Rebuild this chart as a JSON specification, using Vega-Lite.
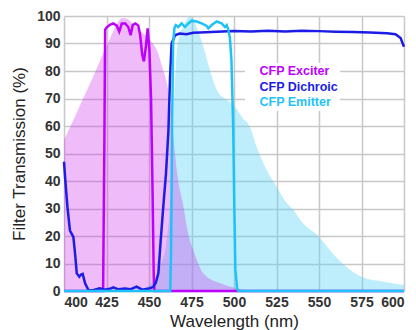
{
  "$schema": "https://vega.github.io/schema/vega-lite/v6.json",
  "width": 340,
  "height": 275,
  "autosize": {"type": "none"},
  "padding": {"left": 64, "top": 16, "right": 12, "bottom": 39},
  "background": "white",
  "config": {
    "view": {"stroke": null},
    "font": "Liberation Sans",
    "axis": {
      "grid": true,
      "gridColor": "#c8c8c8",
      "gridWidth": 1.5,
      "domain": false,
      "ticks": false,
      "labelFont": "Liberation Sans",
      "labelFontSize": 14,
      "labelFontWeight": "bold",
      "labelColor": "#333333",
      "titleFont": "Liberation Sans",
      "titleFontSize": 17,
      "titleFontWeight": "normal",
      "titleColor": "#222222"
    }
  },
  "datasets": {
    "emission": [
      {"wl": 400, "t": 0}, {"wl": 446.5, "t": 0}, {"wl": 449, "t": 1.5}, {"wl": 452, "t": 3.5},
      {"wl": 456.5, "t": 8.8}, {"wl": 460.4, "t": 18.5}, {"wl": 462.3, "t": 30}, {"wl": 463.3, "t": 40},
      {"wl": 464, "t": 55}, {"wl": 464.6, "t": 66}, {"wl": 465.4, "t": 78}, {"wl": 466.5, "t": 88},
      {"wl": 468, "t": 93}, {"wl": 470, "t": 96}, {"wl": 472, "t": 98.5}, {"wl": 474, "t": 99.8},
      {"wl": 476, "t": 99}, {"wl": 478, "t": 96}, {"wl": 482, "t": 88.8}, {"wl": 486, "t": 80},
      {"wl": 490, "t": 73}, {"wl": 495.7, "t": 69.5}, {"wl": 500, "t": 67.5}, {"wl": 505, "t": 63},
      {"wl": 509.5, "t": 59.5}, {"wl": 513.3, "t": 52.5}, {"wl": 519.2, "t": 44}, {"wl": 525, "t": 38},
      {"wl": 531, "t": 32}, {"wl": 535, "t": 29.5}, {"wl": 539, "t": 25.8}, {"wl": 550, "t": 19.7},
      {"wl": 558, "t": 13.7}, {"wl": 566, "t": 8.8}, {"wl": 575, "t": 5.2}, {"wl": 588, "t": 3.4},
      {"wl": 600, "t": 2.2}
    ],
    "absorption": [
      {"wl": 400, "t": 55}, {"wl": 405, "t": 61.5}, {"wl": 410, "t": 68.3}, {"wl": 415, "t": 75},
      {"wl": 420, "t": 82}, {"wl": 425, "t": 89}, {"wl": 429, "t": 94.5}, {"wl": 432, "t": 98},
      {"wl": 434.5, "t": 99.3}, {"wl": 437, "t": 99}, {"wl": 440, "t": 97.5}, {"wl": 444, "t": 95},
      {"wl": 448, "t": 93}, {"wl": 451, "t": 91}, {"wl": 455, "t": 87}, {"wl": 458, "t": 81},
      {"wl": 461, "t": 74}, {"wl": 463, "t": 65}, {"wl": 464.5, "t": 55}, {"wl": 466.5, "t": 43},
      {"wl": 470.2, "t": 30.7}, {"wl": 473, "t": 21}, {"wl": 476, "t": 15}, {"wl": 482, "t": 6.4},
      {"wl": 492, "t": 2.8}, {"wl": 501.6, "t": 1}, {"wl": 510, "t": 0}, {"wl": 600, "t": 0}
    ],
    "filters": [
      {"series": "CFP Exciter", "wl": 400, "t": 0}, {"series": "CFP Exciter", "wl": 423, "t": 0},
      {"series": "CFP Exciter", "wl": 423.7, "t": 50}, {"series": "CFP Exciter", "wl": 424.2, "t": 95},
      {"series": "CFP Exciter", "wl": 425, "t": 95.8}, {"series": "CFP Exciter", "wl": 427, "t": 96.8},
      {"series": "CFP Exciter", "wl": 429, "t": 97.3}, {"series": "CFP Exciter", "wl": 431, "t": 96.5},
      {"series": "CFP Exciter", "wl": 432.5, "t": 94.3}, {"series": "CFP Exciter", "wl": 434, "t": 97.3},
      {"series": "CFP Exciter", "wl": 436, "t": 97.3}, {"series": "CFP Exciter", "wl": 437.8, "t": 96},
      {"series": "CFP Exciter", "wl": 439.2, "t": 93}, {"series": "CFP Exciter", "wl": 440.4, "t": 96.7},
      {"series": "CFP Exciter", "wl": 442, "t": 97.3}, {"series": "CFP Exciter", "wl": 443.7, "t": 96.5},
      {"series": "CFP Exciter", "wl": 444.7, "t": 93.5}, {"series": "CFP Exciter", "wl": 446, "t": 86},
      {"series": "CFP Exciter", "wl": 447, "t": 83.5}, {"series": "CFP Exciter", "wl": 448.2, "t": 89},
      {"series": "CFP Exciter", "wl": 449.2, "t": 95.5}, {"series": "CFP Exciter", "wl": 450.2, "t": 88},
      {"series": "CFP Exciter", "wl": 451.2, "t": 70}, {"series": "CFP Exciter", "wl": 452, "t": 40},
      {"series": "CFP Exciter", "wl": 452.8, "t": 5}, {"series": "CFP Exciter", "wl": 453.2, "t": 0},
      {"series": "CFP Exciter", "wl": 600, "t": 0},
      {"series": "CFP Dichroic", "wl": 400, "t": 47}, {"series": "CFP Dichroic", "wl": 400.6, "t": 41.6},
      {"series": "CFP Dichroic", "wl": 402, "t": 30.7}, {"series": "CFP Dichroic", "wl": 403.5, "t": 22},
      {"series": "CFP Dichroic", "wl": 405.5, "t": 19.7}, {"series": "CFP Dichroic", "wl": 406.5, "t": 13.7},
      {"series": "CFP Dichroic", "wl": 407.5, "t": 6.4}, {"series": "CFP Dichroic", "wl": 409, "t": 5.2},
      {"series": "CFP Dichroic", "wl": 410, "t": 6}, {"series": "CFP Dichroic", "wl": 411, "t": 6.2},
      {"series": "CFP Dichroic", "wl": 412.4, "t": 2.8}, {"series": "CFP Dichroic", "wl": 414.3, "t": 0.4},
      {"series": "CFP Dichroic", "wl": 417, "t": 0.3}, {"series": "CFP Dichroic", "wl": 421, "t": 1},
      {"series": "CFP Dichroic", "wl": 424, "t": 0.5}, {"series": "CFP Dichroic", "wl": 427, "t": 0.8},
      {"series": "CFP Dichroic", "wl": 429, "t": 1.3}, {"series": "CFP Dichroic", "wl": 432, "t": 0.6},
      {"series": "CFP Dichroic", "wl": 436, "t": 0.9}, {"series": "CFP Dichroic", "wl": 439, "t": 0.6},
      {"series": "CFP Dichroic", "wl": 442.7, "t": 1.6}, {"series": "CFP Dichroic", "wl": 446, "t": 0.5},
      {"series": "CFP Dichroic", "wl": 450.6, "t": 1}, {"series": "CFP Dichroic", "wl": 452.5, "t": 1.5},
      {"series": "CFP Dichroic", "wl": 454, "t": 3}, {"series": "CFP Dichroic", "wl": 455.5, "t": 6.4},
      {"series": "CFP Dichroic", "wl": 456.9, "t": 18.5}, {"series": "CFP Dichroic", "wl": 458.4, "t": 30.7},
      {"series": "CFP Dichroic", "wl": 460, "t": 42.8}, {"series": "CFP Dichroic", "wl": 461.4, "t": 58},
      {"series": "CFP Dichroic", "wl": 462.4, "t": 78}, {"series": "CFP Dichroic", "wl": 463.3, "t": 90},
      {"series": "CFP Dichroic", "wl": 465.3, "t": 93}, {"series": "CFP Dichroic", "wl": 468, "t": 93.6},
      {"series": "CFP Dichroic", "wl": 472, "t": 93.4}, {"series": "CFP Dichroic", "wl": 476, "t": 93.9},
      {"series": "CFP Dichroic", "wl": 480, "t": 94}, {"series": "CFP Dichroic", "wl": 490, "t": 94.3},
      {"series": "CFP Dichroic", "wl": 500, "t": 94.5}, {"series": "CFP Dichroic", "wl": 510, "t": 94.4},
      {"series": "CFP Dichroic", "wl": 520, "t": 94.6}, {"series": "CFP Dichroic", "wl": 530, "t": 94.4},
      {"series": "CFP Dichroic", "wl": 540, "t": 94.6}, {"series": "CFP Dichroic", "wl": 550, "t": 94.5},
      {"series": "CFP Dichroic", "wl": 560, "t": 94.3}, {"series": "CFP Dichroic", "wl": 570, "t": 94.2},
      {"series": "CFP Dichroic", "wl": 580, "t": 94}, {"series": "CFP Dichroic", "wl": 590, "t": 93.7},
      {"series": "CFP Dichroic", "wl": 595, "t": 93.4}, {"series": "CFP Dichroic", "wl": 598, "t": 92},
      {"series": "CFP Dichroic", "wl": 600, "t": 88.8},
      {"series": "CFP Emitter", "wl": 400, "t": 0}, {"series": "CFP Emitter", "wl": 462.5, "t": 0},
      {"series": "CFP Emitter", "wl": 463, "t": 15}, {"series": "CFP Emitter", "wl": 463.6, "t": 60},
      {"series": "CFP Emitter", "wl": 464.2, "t": 90}, {"series": "CFP Emitter", "wl": 465, "t": 95.8},
      {"series": "CFP Emitter", "wl": 465.8, "t": 96.7}, {"series": "CFP Emitter", "wl": 467.2, "t": 96},
      {"series": "CFP Emitter", "wl": 469.2, "t": 97.3}, {"series": "CFP Emitter", "wl": 471.2, "t": 96},
      {"series": "CFP Emitter", "wl": 473.1, "t": 97.3}, {"series": "CFP Emitter", "wl": 475.1, "t": 98.3},
      {"series": "CFP Emitter", "wl": 478, "t": 98}, {"series": "CFP Emitter", "wl": 481, "t": 97.3},
      {"series": "CFP Emitter", "wl": 483.9, "t": 96.4}, {"series": "CFP Emitter", "wl": 484.9, "t": 95.5},
      {"series": "CFP Emitter", "wl": 486.9, "t": 96.7}, {"series": "CFP Emitter", "wl": 489.8, "t": 98},
      {"series": "CFP Emitter", "wl": 492.7, "t": 97.3}, {"series": "CFP Emitter", "wl": 494.7, "t": 96},
      {"series": "CFP Emitter", "wl": 495.7, "t": 96.7}, {"series": "CFP Emitter", "wl": 496.7, "t": 95},
      {"series": "CFP Emitter", "wl": 497.6, "t": 92}, {"series": "CFP Emitter", "wl": 498.5, "t": 84},
      {"series": "CFP Emitter", "wl": 499.5, "t": 60}, {"series": "CFP Emitter", "wl": 500.2, "t": 30},
      {"series": "CFP Emitter", "wl": 500.8, "t": 8}, {"series": "CFP Emitter", "wl": 501.8, "t": 1},
      {"series": "CFP Emitter", "wl": 502.5, "t": 0}, {"series": "CFP Emitter", "wl": 600, "t": 0}
    ]
  },
  "encoding": {
    "x": {
      "field": "wl",
      "type": "quantitative",
      "scale": {"domain": [400, 600], "nice": false, "zero": false},
      "axis": {
        "title": "Wavelength (nm)",
        "values": [400, 425, 450, 475, 500, 525, 550, 575, 600],
        "labelPadding": 4,
        "titleY": 35,
        "titleBaseline": "alphabetic"
      }
    },
    "y": {
      "field": "t",
      "type": "quantitative",
      "scale": {"domain": [0, 100], "nice": false},
      "axis": {
        "title": "Filter Transmission (%)",
        "values": [0, 10, 20, 30, 40, 50, 60, 70, 80, 90, 100],
        "labelPadding": 4,
        "titleX": -40,
        "titleBaseline": "alphabetic"
      }
    }
  },
  "layer": [
    {
      "data": {"name": "emission"},
      "mark": {"type": "area", "color": "#5cd4f5", "opacity": 0.4, "interpolate": "monotone"}
    },
    {
      "data": {"name": "absorption"},
      "mark": {"type": "area", "color": "#cd2de8", "opacity": 0.32, "interpolate": "monotone"}
    },
    {
      "data": {"name": "filters"},
      "transform": [{"filter": "datum.series === 'CFP Exciter'"}],
      "mark": {"type": "line", "strokeWidth": 2.5},
      "encoding": {
        "color": {
          "field": "series",
          "type": "nominal",
          "scale": {"domain": ["CFP Exciter", "CFP Dichroic", "CFP Emitter"], "range": ["#bf00ff", "#1c1ce6", "#1fc2f8"]},
          "legend": {
            "title": null,
            "orient": "none",
            "legendX": 181,
            "legendY": 47,
            "symbolType": "circle",
            "symbolSize": 0,
            "symbolStrokeWidth": 0,
            "symbolOpacity": 0,
            "labelOffset": 0,
            "labelFont": "Liberation Sans",
            "labelFontSize": 12.5,
            "labelFontWeight": "bold",
            "fillColor": "white",
            "padding": 2,
            "rowPadding": 2.25,
            "encode": {"labels": {"update": {"fill": {"scale": "color", "field": "value"}}}}
          }
        }
      }
    },
    {
      "data": {"name": "filters"},
      "transform": [{"filter": "datum.series === 'CFP Dichroic'"}],
      "mark": {"type": "line", "strokeWidth": 2.5},
      "encoding": {"color": {"field": "series", "type": "nominal"}}
    },
    {
      "data": {"name": "filters"},
      "transform": [{"filter": "datum.series === 'CFP Emitter'"}],
      "mark": {"type": "line", "strokeWidth": 2.5},
      "encoding": {"color": {"field": "series", "type": "nominal"}}
    }
  ]
}
